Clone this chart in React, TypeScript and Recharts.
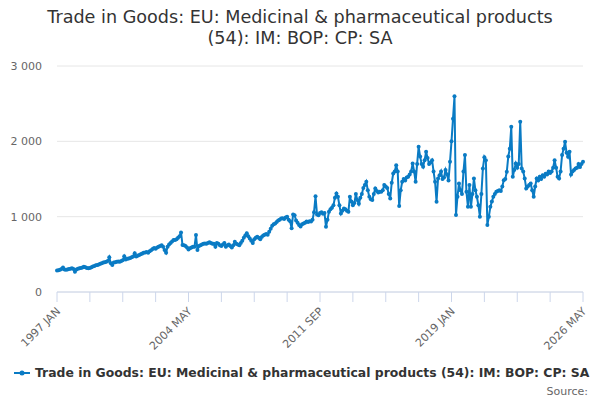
import { LineChart, Line, XAxis, YAxis, CartesianGrid } from 'recharts'

const MONTHS = ['JAN', 'FEB', 'MAR', 'APR', 'MAY', 'JUN', 'JUL', 'AUG', 'SEP', 'OCT', 'NOV', 'DEC']
const START_YEAR = 1997

// monthly imports, £m, one row per year
const imports = [
  285, 290, 295, 305, 325, 300, 295, 300, 305, 310, 315, 305, // 1997
  270, 300, 310, 315, 320, 325, 335, 330, 320, 315, 320, 330, // 1998
  340, 345, 355, 360, 365, 375, 380, 390, 395, 400, 410, 460, // 1999
  380, 360, 390, 395, 400, 405, 400, 410, 420, 475, 430, 440, // 2000
  445, 450, 460, 470, 515, 470, 480, 490, 500, 510, 520, 525, // 2001
  530, 520, 540, 555, 570, 583, 575, 590, 600, 610, 620, 600, // 2002
  557, 521, 600, 630, 650, 670, 690, 690, 700, 720, 740, 791, // 2003
  623, 620, 610, 590, 565, 580, 590, 600, 600, 756, 557, 610, // 2004
  620, 630, 640, 645, 640, 650, 660, 650, 640, 640, 600, 650, // 2005
  640, 620, 610, 630, 650, 600, 620, 630, 610, 590, 620, 667, // 2006
  640, 630, 620, 650, 680, 720, 750, 780, 740, 710, 680, 650, // 2007
  700, 720, 735, 720, 700, 730, 750, 760, 770, 760, 800, 840, // 2008
  880, 900, 910, 930, 950, 960, 975, 980, 970, 990, 1000, 960, // 2009
  940, 845, 1030, 1020, 950, 920, 890, 870, 900, 910, 920, 935, // 2010
  930, 940, 935, 960, 1060, 1270, 1030, 1020, 1050, 1060, 1040, 1050, // 2011
  866, 960, 1065, 1100, 1120, 1153, 1250, 1309, 1264, 1150, 1043, 1080, // 2012
  1110, 1100, 1080, 1065, 1264, 1200, 1153, 1180, 1300, 1220, 1170, 1250, // 2013
  1300, 1380, 1420, 1463, 1350, 1264, 1230, 1220, 1300, 1375, 1340, 1320, // 2014
  1330, 1330, 1350, 1420, 1400, 1380, 1300, 1242, 1450, 1573, 1600, 1684, // 2015
  1600, 1140, 1350, 1463, 1500, 1480, 1520, 1530, 1560, 1600, 1706, 1600, // 2016
  1463, 1700, 1927, 1800, 1700, 1662, 1750, 1861, 1780, 1700, 1720, 1750, // 2017
  1600, 1463, 1198, 1507, 1550, 1600, 1500, 1520, 1620, 1560, 1480, 1728, // 2018
  2000, 2300, 2599, 1021, 1264, 1441, 1350, 1300, 1600, 1817, 1330, 1130, // 2019
  1420, 1130, 1300, 1507, 1350, 1264, 1150, 1000, 1300, 1640, 1790, 1750, // 2020
  888, 1000, 1130, 1200, 1264, 1300, 1330, 1340, 1350, 1340, 1400, 1485, // 2021
  1500, 1595, 1800, 1900, 2192, 1530, 1620, 1706, 1650, 1700, 2259, 1640, // 2022
  1600, 1507, 1375, 1400, 1420, 1441, 1350, 1264, 1400, 1507, 1480, 1530, // 2023
  1500, 1550, 1530, 1570, 1560, 1600, 1580, 1600, 1650, 1750, 1650, 1530, // 2024
  1507, 1600, 1817, 1900, 1994, 1850, 1795, 1861, 1560, 1600, 1620, 1640, // 2025
  1650, 1700, 1660, 1700, 1730, // 2026
]

const tickLabels = ['1997 JAN', '2004 MAY', '2011 SEP', '2019 JAN', '2026 MAY']
const yTicks = [0, 1000, 2000, 3000]

const TITLE = ['Trade in Goods: EU: Medicinal & pharmaceutical products', '(54): IM: BOP: CP: SA']
const SERIES_NAME = 'Trade in Goods: EU: Medicinal & pharmaceutical products (54): IM: BOP: CP: SA'

const COLOR = '#0a7bc4'
const FONT = '"DejaVu Sans", sans-serif'

const monthLabel = (i: number) => `${START_YEAR + Math.floor(i / 12)} ${MONTHS[i % 12]}`

const data = imports.map((v, i) => ({ idx: i, month: monthLabel(i), value: v }))

// minor ticks every 22 months, labels every 88
const xTicks = data.filter((d) => d.idx % 22 === 0).map((d) => d.idx)

function XTick({ x, y, payload }: any) {
  const label = monthLabel(payload.value)
  const show = tickLabels.includes(label)
  return (
    <g>
      <line x1={x} x2={x} y1={y - 8} y2={y + 2} stroke="#ccd6eb" />
      {show && (
        <text
          x={x + 4}
          y={y + 12}
          transform={`rotate(-45, ${x + 4}, ${y + 12})`}
          textAnchor="end"
          fill="#666"
          fontSize={11}
          fontFamily={FONT}
        >
          {label}
        </text>
      )}
    </g>
  )
}

function YTick({ y, payload }: any) {
  return (
    <text x={42} y={y + 4} textAnchor="end" fill="#666" fontSize={11} fontFamily={FONT}>
      {payload.value.toLocaleString('en-US').replace(/,/g, ' ')}
    </text>
  )
}

export default function App() {
  return (
    <div style={{ position: 'relative', width: 600, height: 400, background: '#fff', fontFamily: FONT }}>
      <style>{'body{margin:0}'}</style>
      <div
        style={{
          position: 'absolute',
          top: 7,
          left: 0,
          width: 600,
          textAlign: 'center',
          fontSize: 17.6,
          lineHeight: '21px',
          color: '#333',
        }}
      >
        {TITLE.map((t) => (
          <div key={t}>{t}</div>
        ))}
      </div>
      <LineChart
        width={600}
        height={400}
        data={data}
        margin={{ top: 66, right: 17, bottom: 48, left: 0 }}
      >
        <CartesianGrid vertical={false} stroke="#e6e6e6" />
        <XAxis
          dataKey="idx"
          type="number"
          domain={[0, imports.length - 1]}
          ticks={xTicks}
          interval={0}
          height={60}
          stroke="#ccd6eb"
          tickLine={false}
          tick={<XTick />}
          tickSize={8}
          tickMargin={0}
        />
        <YAxis
          width={57}
          domain={[0, 3000]}
          ticks={yTicks}
          axisLine={false}
          tickLine={false}
          tick={<YTick />}
        />
        <Line
          type="linear"
          dataKey="value"
          name={SERIES_NAME}
          stroke={COLOR}
          strokeWidth={2}
          dot={{ r: 2, fill: COLOR, stroke: COLOR, strokeWidth: 0 }}
          isAnimationActive={false}
        />
      </LineChart>
      <div
        style={{
          position: 'absolute',
          top: 365,
          left: 14,
          display: 'flex',
          alignItems: 'center',
          fontSize: 12.4,
          fontWeight: 'bold',
          color: '#333',
          whiteSpace: 'nowrap',
        }}
      >
        <svg width={18} height={10} style={{ marginRight: 3 }}>
          <line x1={0} x2={16} y1={5} y2={5} stroke={COLOR} strokeWidth={2} />
          <circle cx={8} cy={5} r={2.5} fill={COLOR} />
        </svg>
        {SERIES_NAME}
      </div>
      <div style={{ position: 'absolute', top: 385, right: 12, fontSize: 11, color: '#666' }}>Source:</div>
    </div>
  )
}
